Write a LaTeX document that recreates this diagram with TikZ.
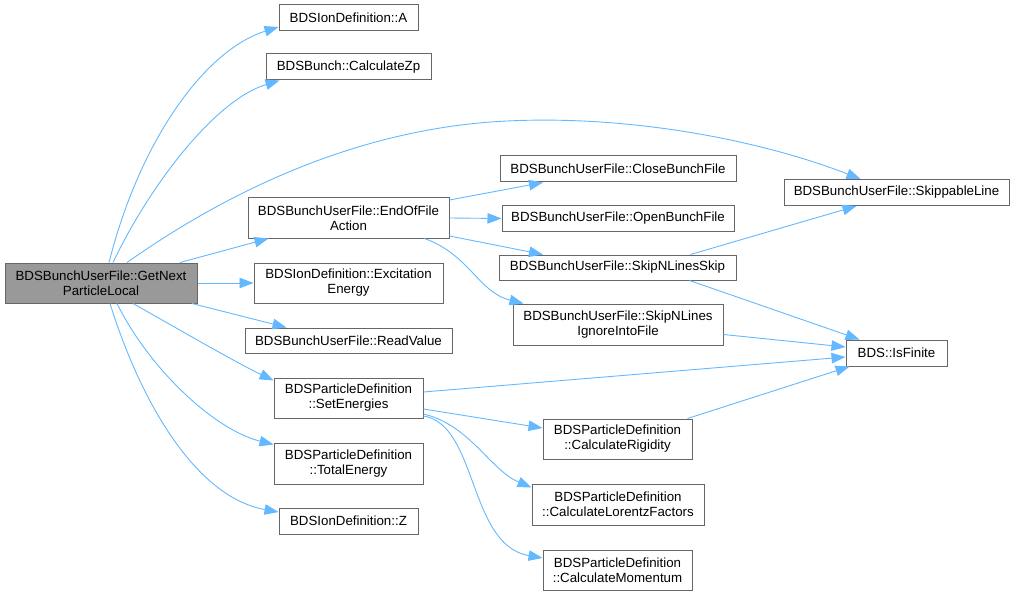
\documentclass[tikz,border=0pt]{standalone}
\usepackage{fontspec}
\setmainfont{Liberation Sans}
\usetikzlibrary{arrows.meta}
\definecolor{edgeblue}{HTML}{63B8FF}
\definecolor{boxgray}{HTML}{666666}
\definecolor{mainfill}{HTML}{999999}
\begin{document}
\begin{tikzpicture}[x=1pt,y=-1pt,
  box/.style={draw=boxgray, line width=1pt, fill=white, inner sep=0pt, align=center,
    font=\fontsize{13.3}{15}\selectfont, text=black},
  conn/.style={draw=edgeblue, line width=0.9pt, -{Triangle[length=14pt,width=10.5pt]}}]
\useasboundingbox (0,0) rectangle (1014,596);
% nodes
\node[box, fill=mainfill, minimum width=192pt, minimum height=40pt] (main) at (101,283) {BDSBunchUserFile::GetNext\\ParticleLocal};
\node[box, minimum width=139pt, minimum height=26pt] (A) at (348.5,18) {BDSIonDefinition::A};
\node[box, minimum width=165pt, minimum height=26pt] (Zp) at (348.5,67) {BDSBunch::CalculateZp};
\node[box, minimum width=201pt, minimum height=40pt] (EOF) at (348.5,218) {BDSBunchUserFile::EndOfFile\\Action};
\node[box, minimum width=189pt, minimum height=40pt] (Exc) at (348.5,283) {BDSIonDefinition::Excitation\\Energy};
\node[box, minimum width=207pt, minimum height=25pt] (RV) at (348.5,340.5) {BDSBunchUserFile::ReadValue};
\node[box, minimum width=149pt, minimum height=40pt] (SE) at (348.5,398) {BDSParticleDefinition\\::SetEnergies};
\node[box, minimum width=149pt, minimum height=41pt] (TE) at (348.5,463.5) {BDSParticleDefinition\\::TotalEnergy};
\node[box, minimum width=139pt, minimum height=26pt] (Z) at (348.5,521) {BDSIonDefinition::Z};
\node[box, minimum width=236pt, minimum height=26pt] (CBF) at (618,169) {BDSBunchUserFile::CloseBunchFile};
\node[box, minimum width=232pt, minimum height=25pt] (OBF) at (618,218.5) {BDSBunchUserFile::OpenBunchFile};
\node[box, minimum width=237pt, minimum height=25pt] (SNS) at (617.5,267.5) {BDSBunchUserFile::SkipNLinesSkip};
\node[box, minimum width=210pt, minimum height=41pt] (SNI) at (618,324.5) {BDSBunchUserFile::SkipNLines\\IgnoreIntoFile};
\node[box, minimum width=149pt, minimum height=40pt] (CR) at (617.5,439) {BDSParticleDefinition\\::CalculateRigidity};
\node[box, minimum width=172pt, minimum height=41pt] (CLF) at (618,504.5) {BDSParticleDefinition\\::CalculateLorentzFactors};
\node[box, minimum width=149pt, minimum height=40pt] (CM) at (617.5,570) {BDSParticleDefinition\\::CalculateMomentum};
\node[box, minimum width=225pt, minimum height=26pt] (SL) at (896.5,192.5) {BDSBunchUserFile::SkippableLine};
\node[box, minimum width=101pt, minimum height=26pt] (IF) at (896.5,353) {BDS::IsFinite};
% connectors from main
\draw[conn] ([xshift=8pt]main.north) .. controls (140,140) and (205,50) .. ([yshift=-9pt]A.west);
\draw[conn] ([xshift=12pt]main.north) .. controls (150,185) and (215,100) .. ([xshift=14pt]Zp.south west);
\draw[conn] ([xshift=26pt]main.north) .. controls (230,190) and (360,128) .. (507,121)
  .. controls (630,115) and (760,140) .. ([xshift=-36pt]SL.north);
\draw[conn] ([xshift=79pt]main.north) -- ([xshift=-80pt]EOF.south);
\draw[conn] (main.east) -- (Exc.west);
\draw[conn] ([xshift=91pt]main.south) -- ([xshift=-62pt]RV.north);
\draw[conn] ([xshift=32pt]main.south) .. controls (180,330) and (235,362) .. ([yshift=-3pt]SE.north west);
\draw[conn] ([xshift=16pt]main.south) .. controls (150,370) and (215,430) .. ([yshift=-2pt]TE.north west);
\draw[conn] ([xshift=9pt]main.south) .. controls (140,400) and (195,497) .. ([yshift=9pt]Z.west);
% connectors from EndOfFileAction
\draw[conn] ([yshift=18pt]EOF.east) -- ([xshift=-75pt]CBF.south);
\draw[conn] (EOF.east) -- (OBF.west);
\draw[conn] ([yshift=-18pt]EOF.east) -- ([xshift=-74.5pt]SNS.north);
\draw[conn] ([xshift=76pt]EOF.south) .. controls (470,255) and (478,292) .. ([xshift=11pt]SNI.north west);
% others
\draw[conn] ([xshift=73pt]SNS.north) -- ([xshift=-40pt]SL.south);
\draw[conn] ([xshift=72pt]SNS.south) -- ([xshift=-37pt]IF.north);
\draw[conn] ([yshift=-10pt]SNI.east) -- ([yshift=6pt]IF.west);
\draw[conn] ([yshift=6pt]SE.east) -- ([yshift=-4pt]IF.west);
\draw[conn] ([xshift=70pt]CR.north) -- ([xshift=4pt]IF.south west);
\draw[conn] ([yshift=-11pt]SE.east) -- ([yshift=11pt]CR.west);
\draw[conn] ([yshift=-16pt]SE.east) .. controls (470,425) and (490,470) .. ([yshift=-4pt]CLF.north west);
\draw[conn] ([yshift=-18pt]SE.east) .. controls (478,425) and (468,545) .. ([yshift=12pt]CM.west);
\end{tikzpicture}
\end{document}
